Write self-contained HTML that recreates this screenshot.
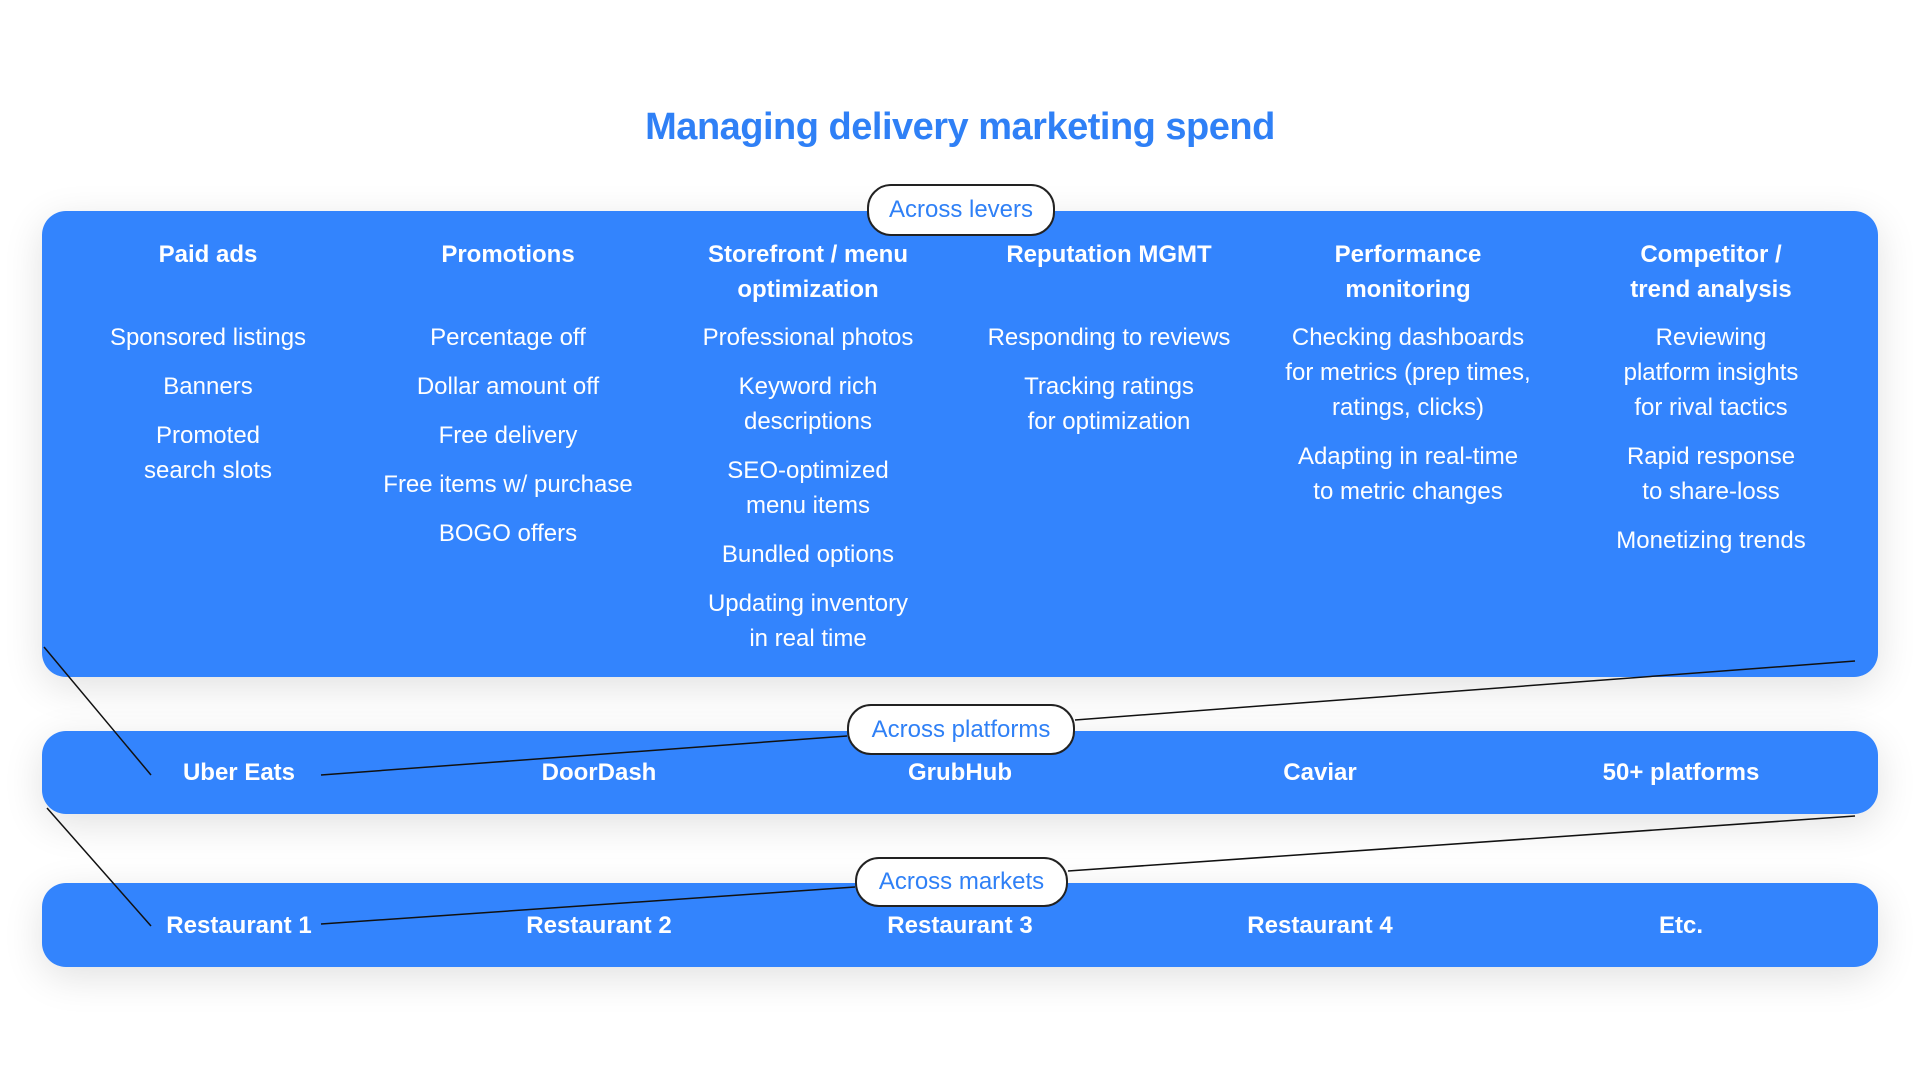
<!DOCTYPE html>
<html><head><meta charset="utf-8"><style>
body{margin:0;width:1920px;height:1080px;background:#fff;position:relative;overflow:hidden;font-family:"Liberation Sans",sans-serif;}
.title{position:absolute;left:0;width:1920px;top:106px;text-align:center;color:#2f80f6;font-weight:bold;font-size:38px;letter-spacing:-0.5px;}
.panel{position:absolute;left:42px;width:1836px;background:#3384fd;border-radius:24px;box-shadow:0 10px 40px rgba(0,0,0,0.12);}
.pill{position:absolute;background:#fff;border:2px solid #222;border-radius:24px;color:#2f80f6;font-size:24px;display:flex;align-items:center;justify-content:center;box-sizing:border-box;z-index:3;}
.col{position:absolute;top:237px;width:300px;margin-left:-150px;text-align:center;color:#fff;font-size:24px;line-height:35px;}
.col h3{margin:0 0 13px;font-size:24px;font-weight:bold;line-height:35px;height:70px;}
.col div{margin-bottom:14px;}
.row{position:absolute;width:300px;margin-left:-150px;text-align:center;color:#fff;font-weight:bold;font-size:24px;line-height:30px;}
svg{position:absolute;left:0;top:0;z-index:2;}
</style></head><body>
<div class="title">Managing delivery marketing spend</div>
<div class="panel" style="top:211px;height:466px"></div>
<div class="panel" style="top:731px;height:83px"></div>
<div class="panel" style="top:883px;height:84px"></div>
<div class="pill" style="left:867px;top:184px;width:188px;height:52px">Across levers</div>
<div class="pill" style="left:847px;top:704px;width:228px;height:51px">Across platforms</div>
<div class="pill" style="left:855px;top:857px;width:213px;height:50px">Across markets</div>

<div class="col" style="left:208px"><h3>Paid ads</h3><div>Sponsored listings</div><div>Banners</div><div>Promoted<br>search slots</div></div>
<div class="col" style="left:508px"><h3>Promotions</h3><div>Percentage off</div><div>Dollar amount off</div><div>Free delivery</div><div>Free items w/ purchase</div><div>BOGO offers</div></div>
<div class="col" style="left:808px"><h3>Storefront / menu<br>optimization</h3><div>Professional photos</div><div>Keyword rich<br>descriptions</div><div>SEO-optimized<br>menu items</div><div>Bundled options</div><div>Updating inventory<br>in real time</div></div>
<div class="col" style="left:1109px"><h3>Reputation MGMT</h3><div>Responding to reviews</div><div>Tracking ratings<br>for optimization</div></div>
<div class="col" style="left:1408px"><h3>Performance<br>monitoring</h3><div>Checking dashboards<br>for metrics (prep times,<br>ratings, clicks)</div><div>Adapting in real-time<br>to metric changes</div></div>
<div class="col" style="left:1711px"><h3>Competitor /<br>trend analysis</h3><div>Reviewing<br>platform insights<br>for rival tactics</div><div>Rapid response<br>to share-loss</div><div>Monetizing trends</div></div>

<div class="row" style="left:239px;top:758px">Uber Eats</div>
<div class="row" style="left:599px;top:758px">DoorDash</div>
<div class="row" style="left:960px;top:758px">GrubHub</div>
<div class="row" style="left:1320px;top:758px">Caviar</div>
<div class="row" style="left:1681px;top:758px">50+ platforms</div>
<div class="row" style="left:239px;top:911px">Restaurant 1</div>
<div class="row" style="left:599px;top:911px">Restaurant 2</div>
<div class="row" style="left:960px;top:911px">Restaurant 3</div>
<div class="row" style="left:1320px;top:911px">Restaurant 4</div>
<div class="row" style="left:1681px;top:911px">Etc.</div>

<svg width="1920" height="1080"><g stroke="#111" stroke-width="1.5" fill="none">
<line x1="44" y1="647" x2="151" y2="775"/><line x1="321" y1="775" x2="847" y2="736"/><line x1="1075" y1="720" x2="1855" y2="661"/>
<line x1="47" y1="808" x2="151" y2="926"/><line x1="321" y1="924" x2="855" y2="887"/><line x1="1068" y1="871" x2="1855" y2="816"/>
</g></svg>
</body></html>
